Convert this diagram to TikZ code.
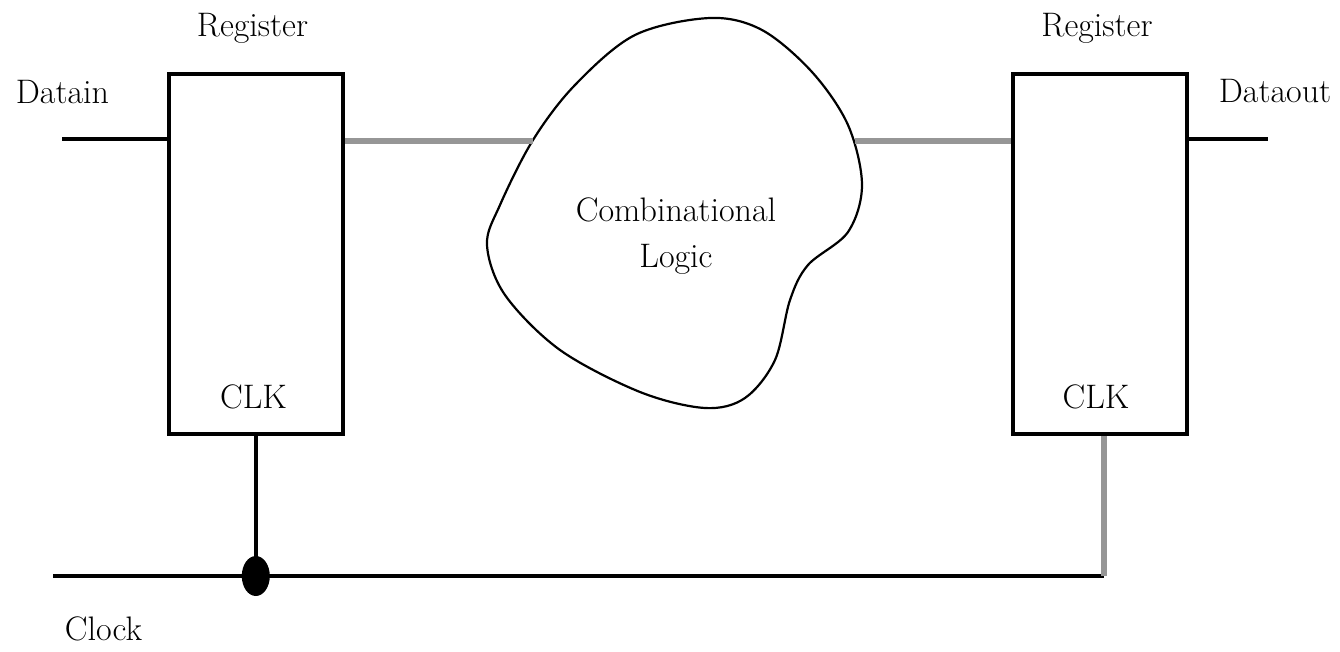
\documentclass[tikz,border=0pt]{standalone}
\usetikzlibrary{shapes.geometric}
\definecolor{wiregray}{RGB}{150,150,150}
\begin{document}
\begin{tikzpicture}[x=0.5pt,y=-0.5pt,
  font=\fontsize{17}{23}\selectfont,
  reg/.style={draw, line width=2pt, minimum width=87pt, minimum height=180pt, inner sep=0pt},
  lbl/.style={inner sep=0pt},
  wire/.style={line width=2pt},
  gwire/.style={line width=2.8pt, draw=wiregray},
  blob/.style={line width=1.1pt},
  junction/.style={ellipse, fill=black, minimum width=14pt, minimum height=20pt, inner sep=0pt}]
\useasboundingbox (0,0) rectangle (1340,652);

% registers
\node[reg] (regL) at (255.8,254.5) {};
\node[reg] (regR) at (1099.7,254.5) {};
\node[lbl] (regLlbl) at (252.5,28) {Register};
\node[lbl] (regRlbl) at (1097,28) {Register};
\node[lbl] (clkL) at (253.5,397) {CLK};
\node[lbl] (clkR) at (1096,397) {CLK};

% combinational logic blob
\draw[blob] plot[smooth cycle, tension=0.55] coordinates {
  (710,18) (762,30) (812,72) (848,125) (862,185) (848,232) (808,265)
  (790,300) (775,360) (745,398) (705,408) (640,392) (560,350) (505,295)
  (487,245) (500,205) (533,140) (575,85) (635,35)};
\node[lbl, align=center] (comb) at (676,236.5) {Combinational\\Logic};

% data path
\node[lbl] (datain) at (62.5,92) {Datain};
\node[lbl] (dataout) at (1275,91) {Dataout};
\coordinate (din) at (62,139);
\coordinate (dout) at (1268,139);
\coordinate (bin) at (533,141);
\coordinate (bout) at (855,141);
\draw[wire] (din) -- (din -| regL.west);
\draw[gwire] (bin -| regL.east) -- (bin);
\draw[gwire] (bout) -- (bout -| regR.west);
\draw[wire] (dout -| regR.east) -- (dout);

% clock
\node[lbl] (clock) at (103.5,629) {Clock};
\coordinate (clkin) at (53,576);
\coordinate (clkend) at (1104,576);
\node[junction] (dot) at (regL.south |- clkin) {};
\draw[wire] (regL.south) -- (dot.center);
\draw[wire] (clkin) -- (clkend);
\draw[gwire] (clkend) -- (clkend |- regR.south);
\end{tikzpicture}
\end{document}
